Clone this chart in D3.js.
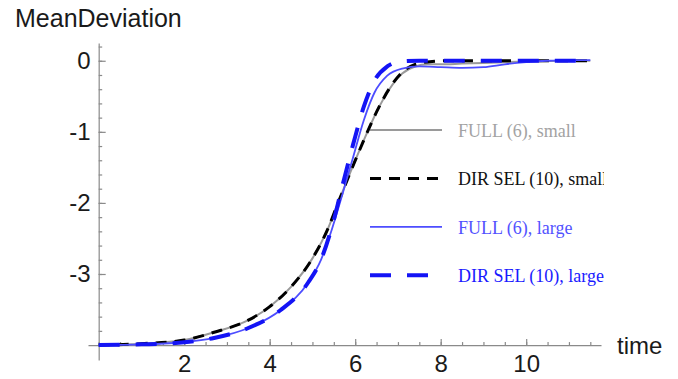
<!DOCTYPE html>
<html>
<head>
<meta charset="utf-8">
<script src="https://cdn.jsdelivr.net/npm/d3@7"></script>
<style>
  html, body { margin: 0; padding: 0; background: #fff; }
  svg { display: block; }
</style>
</head>
<body>
<svg id="chart" width="678" height="379"></svg>
<script>
// series data
let fullSmallT = [0, 1, 2, 2.7, 3.5, 4, 4.5, 5, 5.35, 5.6, 5.9, 6.2, 6.5, 6.8, 7.1, 7.4, 7.7, 8, 8.5, 9, 10, 11, 11.5];
let fullSmallV = [-4, -3.98, -3.93, -3.82, -3.65, -3.46, -3.18, -2.78, -2.38, -2.0, -1.55, -1.12, -0.72, -0.4, -0.18, -0.08, -0.05, -0.05, -0.04, -0.03, -0.01, 0, 0];

let dirSmallT = [0, 1, 2, 2.7, 3.5, 4, 4.5, 5, 5.35, 5.6, 5.9, 6.2, 6.5, 6.8, 7.1, 7.4, 7.8, 8.2, 9, 10, 11, 11.5];
let dirSmallV = [-4, -3.98, -3.93, -3.82, -3.65, -3.46, -3.18, -2.78, -2.38, -2.0, -1.55, -1.12, -0.72, -0.39, -0.16, -0.05, -0.01, 0, 0, 0, 0, 0];

let fullLargeT = [0, 1, 2, 2.7, 3.5, 4.25, 4.9, 5.2, 5.45, 5.7, 5.95, 6.2, 6.45, 6.75, 7.1, 7.5, 8, 8.5, 9, 9.5, 10, 10.5, 11, 11.5];
let fullLargeV = [-4, -3.99, -3.96, -3.9, -3.76, -3.51, -3.12, -2.8, -2.38, -1.88, -1.36, -0.84, -0.45, -0.21, -0.11, -0.08, -0.09, -0.1, -0.09, -0.05, -0.02, 0, 0.01, 0.01];

let dirLargeT = [0, 1, 2, 2.7, 3.5, 4.25, 4.9, 5.2, 5.45, 5.7, 5.95, 6.2, 6.45, 6.75, 7.05, 7.5, 8, 9, 10, 11, 11.5];
let dirLargeV = [-4, -3.99, -3.96, -3.9, -3.76, -3.51, -3.12, -2.8, -2.35, -1.76, -1.18, -0.65, -0.28, -0.08, -0.01, 0, 0, 0, 0, 0, 0];

let seriesNames = ['FULL (6), small', 'DIR SEL (10), small', 'FULL (6), large', 'DIR SEL (10), large'];

let xMajorTicks = [2, 4, 6, 8, 10];
let yMajorTicks = [0, -1, -2, -3];

function zip(ts, vs){
    return ts.map((t, i) => ({t: t, v: vs[i]}));
}

let series = [
    {name: seriesNames[0], pts: zip(fullSmallT, fullSmallV), color: '#9a9a9a', text: '#a3a3a3', width: 2, dash: null},
    {name: seriesNames[1], pts: zip(dirSmallT, dirSmallV), color: '#000000', text: '#111111', width: 3, dash: '11,8'},
    {name: seriesNames[2], pts: zip(fullLargeT, fullLargeV), color: '#4d4dff', text: '#5252ff', width: 1.8, dash: null},
    {name: seriesNames[3], pts: zip(dirLargeT, dirLargeV), color: '#1414f5', text: '#1a1aff', width: 4, dash: '21,16'}
];

let svg = d3.select('#chart');

let x = d3.scaleLinear().domain([-0.25, 11.75]).range([88, 601]);
let y = d3.scaleLinear().domain([-4.21, 0.25]).range([360, 43]);

let axisColor = '#8a8a8a';

// x axis: minor then major ticks, inward
let xMinor = d3.axisBottom(x).tickValues(d3.range(0, 11.75, 0.5)).tickSizeInner(-3).tickSizeOuter(0).tickFormat('');
let xMajor = d3.axisBottom(x).tickValues(xMajorTicks).tickSizeInner(-6).tickSizeOuter(0).tickPadding(10);

let gx = svg.append('g').attr('transform', 'translate(0,' + y(-4) + ')');
gx.call(xMinor);
let gx2 = svg.append('g').attr('transform', 'translate(0,' + y(-4) + ')');
gx2.call(xMajor);
gx2.select('.domain').remove();

// y axis
let yMinor = d3.axisLeft(y).tickValues(d3.range(-4, 0.21, 0.2)).tickSizeInner(-3.5).tickSizeOuter(0).tickFormat('');
let yMajor = d3.axisLeft(y).tickValues(yMajorTicks).tickSizeInner(-7).tickSizeOuter(0).tickPadding(8)
                .tickFormat(d => d === 0 ? '0' : '-' + Math.abs(d));

let gy = svg.append('g').attr('transform', 'translate(' + x(0) + ',0)');
gy.call(yMinor);
let gy2 = svg.append('g').attr('transform', 'translate(' + x(0) + ',0)');
gy2.call(yMajor);
gy2.select('.domain').remove();

svg.selectAll('.domain').attr('stroke', axisColor).attr('stroke-width', 1.2);
svg.selectAll('.tick line').attr('stroke', axisColor).attr('stroke-width', 1.2);
svg.selectAll('.tick text')
    .attr('font-family', 'Liberation Sans, Arial, sans-serif')
    .attr('font-size', 24)
    .attr('fill', '#1a1a1a');
gx2.selectAll('.tick text').attr('dy', '0.71em');

// axis labels
svg.append('text')
    .attr('x', 15).attr('y', 27)
    .attr('font-family', 'Liberation Sans, Arial, sans-serif')
    .attr('font-size', 25)
    .attr('fill', '#1a1a1a')
    .text('MeanDeviation');

svg.append('text')
    .attr('x', 617).attr('y', 354)
    .attr('font-family', 'Liberation Sans, Arial, sans-serif')
    .attr('font-size', 24)
    .attr('fill', '#1a1a1a')
    .text('time');

// legend (clipped on the right like the original, which cuts "small")
let legendX = 370, legendTop = 130, legendStep = 48.4;
let clip = svg.append('clipPath').attr('id', 'legclip');
clip.append('rect').attr('x', 360).attr('y', 100).attr('width', 244).attr('height', 200);

let leg = svg.append('g').attr('clip-path', 'url(#legclip)');
series.forEach(function(s, i){
    let ly = legendTop + i * legendStep;
    leg.append('line')
        .attr('x1', legendX).attr('x2', legendX + 72)
        .attr('y1', ly).attr('y2', ly)
        .attr('stroke', s.color)
        .attr('stroke-width', s.width)
        .attr('stroke-dasharray', s.dash);
    leg.append('text')
        .attr('x', 458).attr('y', ly + 7)
        .attr('font-family', 'Liberation Serif, Times New Roman, serif')
        .attr('font-size', 18)
        .attr('fill', s.text)
        .text(s.name);
});

// curves
let line = d3.line()
    .x(d => x(d.t))
    .y(d => y(d.v))
    .curve(d3.curveMonotoneX);

svg.append('g').selectAll('path')
    .data(series)
    .enter()
    .append('path')
    .attr('d', d => line(d.pts))
    .attr('fill', 'none')
    .attr('stroke', d => d.color)
    .attr('stroke-width', d => d.width)
    .attr('stroke-dasharray', d => d.dash);
</script>
</body>
</html>
